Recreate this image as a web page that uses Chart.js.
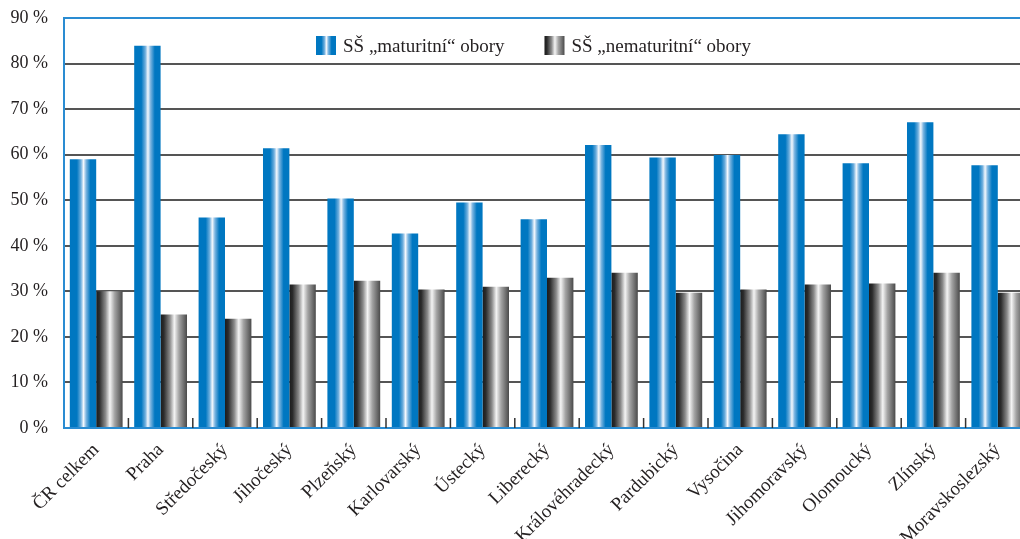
<!DOCTYPE html>
<html lang="cs">
<head>
<meta charset="utf-8">
<title>SŠ maturitní a nematuritní obory podle krajů</title>
<script src="https://cdn.jsdelivr.net/npm/chart.js@4/dist/chart.umd.min.js"></script>
<style>
    html, body { margin: 0; padding: 0; background: #fff; overflow: hidden; }
    #wrap { width: 1032px; height: 539px; position: relative; }
</style>
</head>
<body>
<div id="wrap"><canvas id="krajeChart"></canvas></div>
<script>
// Data (v %)
const categories = ['ČR celkem', 'Praha', 'Středočeský', 'Jihočeský', 'Plzeňský', 'Karlovarský', 'Ústecký',
    'Liberecký', 'Královéhradecký', 'Pardubický', 'Vysočina', 'Jihomoravský', 'Olomoucký', 'Zlínský', 'Moravskoslezský'];
const maturitni = [59.0, 83.9, 46.2, 61.4, 50.4, 42.7, 49.5, 45.8, 62.1, 59.4, 59.9, 64.5, 58.1, 67.1, 57.7];
const nematuritni = [30.0, 24.9, 24.0, 31.5, 32.3, 30.4, 31.0, 33.0, 34.1, 29.7, 30.4, 31.5, 31.7, 34.1, 29.7];
const seriesLabels = ['SŠ „maturitní“ obory', 'SŠ „nematuritní“ obory'];
const yMin = 0;
const yMax = 90;
const yStep = 10;

const textColor = '#231f20';
const frameBlue = '#2a8cd2';
const serif = '"Liberation Serif", "DejaVu Serif", serif';
const catPct = 0.82;

// Přechody pro "válcové" sloupce
const blueStops = [[0, '#0077c1'], [0.27, '#0077c1'], [0.42, '#6eaedd'], [0.52, '#f4f8fd'], [0.62, '#7ab4e0'], [0.78, '#0077c1'], [1, '#0077c1']];
const grayStops = [[0, '#1c1c1c'], [0.12, '#2b2b2b'], [0.35, '#8a8a8a'], [0.52, '#f4f4f4'], [0.7, '#a3a3a3'], [1, '#4a4a4a']];

function makeGradient(c, left, width, stops) {
    const g = c.createLinearGradient(left, 0, left + width, 0);
    stops.forEach(s => g.addColorStop(s[0], s[1]));
    return g;
}

function barFill(stops, solid) {
    return function(ctx) {
        const xs = ctx.chart.scales.x;
        if (!xs || ctx.dataIndex === undefined) return solid;
        const barW = xs.width / categories.length * catPct / 2;
        const center = xs.getPixelForValue(ctx.dataIndex);
        const left = center - barW + ctx.datasetIndex * barW;
        if (!isFinite(left) || !isFinite(barW) || barW <= 0) return solid;
        return makeGradient(ctx.chart.ctx, left, barW, stops);
    };
}

// Legenda uvnitř grafu
const innerLegend = {
    id: 'innerLegend',
    afterDraw(chart) {
        const c = chart.ctx;
        const area = chart.chartArea;
        c.save();
        c.font = '19px ' + serif;
        c.textBaseline = 'middle';
        let x = area.left + 252;
        const y = area.top + 28;
        chart.data.datasets.forEach((ds, i) => {
            c.fillStyle = makeGradient(c, x, 20, i === 0 ? blueStops : grayStops);
            c.fillRect(x, y - 10, 20, 19);
            c.fillStyle = textColor;
            c.fillText(ds.label, x + 27, y + 1);
            x += 27 + c.measureText(ds.label).width + 40;
        });
        c.restore();
    }
};

// Krátké značky mezi kategoriemi na ose x (směrem dovnitř)
const innerTicks = {
    id: 'innerTicks',
    afterDatasetsDraw(chart) {
        const xs = chart.scales.x;
        const bottom = chart.chartArea.bottom;
        const c = chart.ctx;
        c.save();
        c.strokeStyle = '#333';
        c.lineWidth = 1.5;
        for (let i = 1; i <= categories.length; i++) {
            const x = xs.getPixelForValue(i - 0.5);
            c.beginPath();
            c.moveTo(x, bottom);
            c.lineTo(x, bottom - 10);
            c.stroke();
        }
        c.restore();
    }
};

new Chart(document.getElementById('krajeChart'), {
    type: 'bar',
    data: {
        labels: categories,
        datasets: [
            {
                label: seriesLabels[0],
                data: maturitni,
                backgroundColor: barFill(blueStops, '#0077c1'),
                borderWidth: 0
            },
            {
                label: seriesLabels[1],
                data: nematuritni,
                backgroundColor: barFill(grayStops, '#555'),
                borderWidth: 0
            }
        ]
    },
    options: {
        responsive: true,
        maintainAspectRatio: false,
        animation: false,
        events: [],
        layout: { padding: { top: 18, right: 2, left: 0, bottom: 0 } },
        datasets: {
            bar: { categoryPercentage: catPct, barPercentage: 1 }
        },
        plugins: {
            legend: { display: false },
            tooltip: { enabled: false }
        },
        scales: {
            x: {
                offset: true,
                grid: { display: false },
                border: { color: frameBlue, width: 2 },
                ticks: {
                    color: textColor,
                    font: { family: serif, size: 19 },
                    minRotation: 45,
                    maxRotation: 45,
                    padding: 3,
                    autoSkip: false
                },
                afterFit(scale) {
                    scale.height = 539 - 428;
                    scale.paddingLeft = 0;
                }
            },
            y: {
                min: yMin,
                max: yMax,
                border: { color: frameBlue, width: 2 },
                grid: {
                    drawTicks: false,
                    lineWidth: 2,
                    color: ctx => (ctx.tick && (ctx.tick.value === yMax || ctx.tick.value === yMin)) ? frameBlue : '#555'
                },
                ticks: {
                    stepSize: yStep,
                    padding: 16,
                    color: textColor,
                    font: { family: serif, size: 18 },
                    callback: v => v + ' %'
                },
                afterFit(scale) {
                    scale.width = 64;
                    scale.paddingTop = 0;
                    scale.paddingBottom = 0;
                }
            }
        }
    },
    plugins: [innerTicks, innerLegend]
});
</script>
</body>
</html>
